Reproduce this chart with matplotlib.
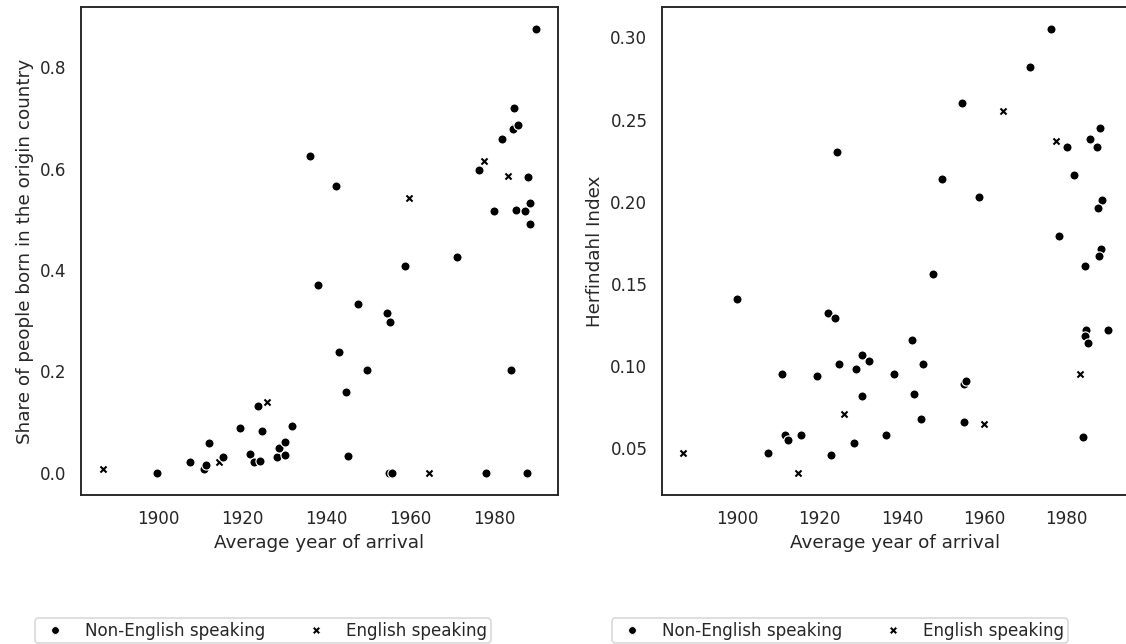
import matplotlib
matplotlib.use("Agg")
import matplotlib.pyplot as plt
from matplotlib.lines import Line2D
import seaborn as sns
import numpy as np

# ---- data ----
year = [1886.8, 1899.8, 1907.5, 1910.8, 1911.5, 1912.2, 1914.6, 1915.4, 1919.4, 1921.9,
        1922.8, 1924.2, 1923.8, 1926.0, 1924.7, 1928.4, 1928.8, 1930.2, 1930.3, 1931.9,
        1936.2, 1938.0, 1942.4, 1943.0, 1944.6, 1945.1, 1947.6, 1949.6, 1954.5, 1955.1,
        1955.0, 1955.6, 1958.8, 1959.8, 1964.5, 1971.1, 1976.3, 1977.5, 1978.1, 1980.0,
        1981.8, 1983.2, 1983.9, 1984.6, 1984.5, 1984.4, 1985.7, 1985.1, 1987.3, 1988.1,
        1988.6, 1988.4, 1987.8, 1987.7, 1990.0]
share_born = [0.007, 0.000, 0.021, 0.008, 0.016, 0.059, 0.021, 0.031, 0.089, 0.038,
              0.021, 0.023, 0.131, 0.139, 0.083, 0.031, 0.049, 0.060, 0.035, 0.092,
              0.624, 0.371, 0.566, 0.239, 0.160, 0.034, 0.332, 0.202, 0.315, 0.297,
              0.000, 0.000, 0.407, 0.542, 0.000, 0.426, 0.597, 0.615, 0.000, 0.517,
              0.659, 0.586, 0.203, 0.720, 0.680, 0.678, 0.687, 0.519, 0.517, 0.583,
              0.533, 0.490, 0.000, 0.000, 0.875]
herfindahl = [0.047, 0.141, 0.047, 0.095, 0.058, 0.055, 0.035, 0.058, 0.094, 0.132,
              0.046, 0.230, 0.129, 0.071, 0.101, 0.053, 0.098, 0.082, 0.107, 0.103,
              0.058, 0.095, 0.116, 0.083, 0.068, 0.101, 0.156, 0.214, 0.260, 0.066,
              0.089, 0.091, 0.203, 0.065, 0.255, 0.282, 0.305, 0.237, 0.179, 0.233,
              0.216, 0.095, 0.057, 0.122, 0.161, 0.118, 0.238, 0.114, 0.233, 0.245,
              0.201, 0.171, 0.167, 0.196, 0.122]
english = [1, 0, 0, 0, 0, 0, 1, 0, 0, 0,
           0, 0, 0, 1, 0, 0, 0, 0, 0, 0,
           0, 0, 0, 0, 0, 0, 0, 0, 0, 0,
           0, 0, 0, 1, 1, 0, 0, 1, 0, 0,
           0, 1, 0, 0, 0, 0, 0, 0, 0, 0,
           0, 0, 0, 0, 0]
group_labels = ["Non-English speaking", "English speaking"]
xlabel = "Average year of arrival"
ylabels = ["Share of people born in the origin country", "Herfindahl Index"]
xticks = [1900, 1920, 1940, 1960, 1980]

sns.set_theme(style="white")
plt.rcParams['font.family'] = ['DejaVu Sans']

DPI = 110
W, H = 1126, 644
fig = plt.figure(figsize=(W / DPI, H / DPI), dpi=DPI)

def px_rect(x0, y0, x1, y1):
    return [x0 / W, 1 - y1 / H, (x1 - x0) / W, (y1 - y0) / H]

ax1 = fig.add_axes(px_rect(81, 7, 558, 495))
ax2 = fig.add_axes(px_rect(662, 7, 1129, 495))

markers = ["o", "X"]
for ax, yvals, ylab in [(ax1, share_born, ylabels[0]), (ax2, herfindahl, ylabels[1])]:
    for i in range(len(year)):
        ax.scatter(year[i], yvals[i], s=36, marker=markers[english[i]], color="black",
                   edgecolor="white", linewidth=0.75, zorder=3)
    ax.set_xlabel(xlabel, fontsize=12)
    ax.set_ylabel(ylab, fontsize=12)
    ax.tick_params(labelsize=11)
    ax.set_xticks(xticks)

ax2.set_yticks([0.05, 0.10, 0.15, 0.20, 0.25, 0.30])
ax1.set_yticks([0.0, 0.2, 0.4, 0.6, 0.8])

handles = [Line2D([], [], marker="o", color="black", linestyle="none", markersize=5,
                  markeredgecolor="white", markeredgewidth=0.5),
           Line2D([], [], marker="X", color="black", linestyle="none", markersize=5,
                  markeredgecolor="white", markeredgewidth=0.5)]

for x0 in [35, 612]:
    leg = fig.legend(handles, group_labels, ncol=2, fontsize=11,
                     loc="lower left", bbox_to_anchor=(x0 / W, 1 - 643 / H),
                     bbox_transform=fig.transFigure, borderaxespad=0, frameon=True,
                     borderpad=0.2)

fig.savefig("out.png", dpi=DPI)
